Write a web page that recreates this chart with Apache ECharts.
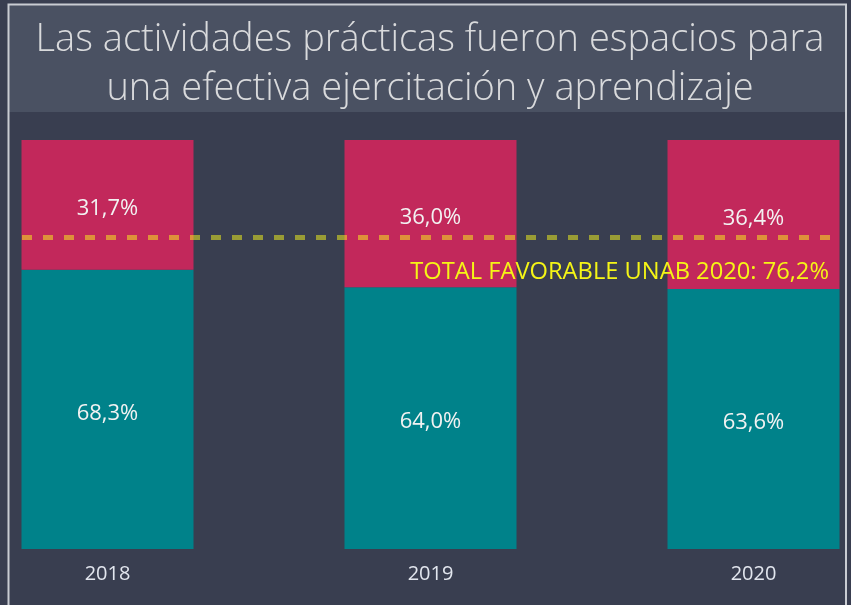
<!DOCTYPE html>
<html>
<head>
<meta charset="utf-8">
<script src="https://cdn.jsdelivr.net/npm/echarts@6/dist/echarts.min.js"></script>
<style>
  html, body { margin: 0; padding: 0; background: #393e50; }
  #chart { width: 851px; height: 605px; }
</style>
</head>
<body>
<div id="chart"></div>
<script>
const titleLines = ['Las actividades prácticas fueron espacios para', 'una efectiva ejercitación y aprendizaje'];
const years = ['2018', '2019', '2020'];
const favorable = [68.3, 64.0, 63.6];
const rest = [31.7, 36.0, 36.4];
const totalFavorable = 76.2;
const totalLabel = 'TOTAL FAVORABLE UNAB 2020: ';

const fmt = v => v.toFixed(1).replace('.', ',') + '%';

const chart = echarts.init(document.getElementById('chart'));

const barLabel = {
  show: true,
  position: 'inside',
  offset: [0, 4],
  color: '#f2f2f2',
  fontSize: 22,
  fontFamily: 'Open Sans',
  formatter: p => fmt(p.value)
};

chart.setOption({
  backgroundColor: '#393e50',
  animation: false,
  grid: { left: 107.5, right: 97.5, top: 140, bottom: 56 },
  xAxis: {
    type: 'category',
    data: years,
    boundaryGap: false,
    axisLine: { show: false },
    axisTick: { show: false },
    axisLabel: { color: '#e2e6ee', fontSize: 20, fontFamily: 'Open Sans', margin: 15 }
  },
  yAxis: { type: 'value', min: 0, max: 100, show: false },
  graphic: [
    // title band + frame
    { type: 'rect', shape: { x: 9, y: 5, width: 837, height: 107 }, style: { fill: '#4a5162' }, z: 0 },
    { type: 'polyline', shape: { points: [[8.5, 605], [8.5, 4.5], [846, 4.5], [846, 605]] },
      style: { stroke: '#c9ccd2', lineWidth: 2, fill: null }, z: 1 },
    { type: 'text', z: 2,
      style: { x: 430, y: 40, text: titleLines[0], fill: '#d9dadc', font: '300 38px "Open Sans"',
        align: 'center', verticalAlign: 'middle' } },
    { type: 'text', z: 2,
      style: { x: 430, y: 89, text: titleLines[1], fill: '#d9dadc', font: '300 38px "Open Sans"',
        align: 'center', verticalAlign: 'middle' } },
    { type: 'text', z: 5,
      style: { x: 829, y: 272, text: totalLabel + fmt(totalFavorable), fill: '#f5f516',
        font: '23.7px "Open Sans"', align: 'right', verticalAlign: 'middle' } }
  ],
  series: [
    {
      type: 'bar', stack: 'total', data: favorable, barWidth: 172, clip: false,
      itemStyle: { color: '#00828a' }, label: barLabel,
      markLine: {
        silent: true, symbol: 'none',
        lineStyle: { color: 'rgba(250,250,25,0.5)', width: 5, type: [10, 11] },
        label: { show: false },
        data: [[{ x: 22, yAxis: totalFavorable }, { x: 830, yAxis: totalFavorable }]]
      }
    },
    {
      type: 'bar', stack: 'total', data: rest, barWidth: 172, clip: false,
      itemStyle: { color: '#c2285b' }, label: barLabel
    }
  ]
});
</script>
</body>
</html>
